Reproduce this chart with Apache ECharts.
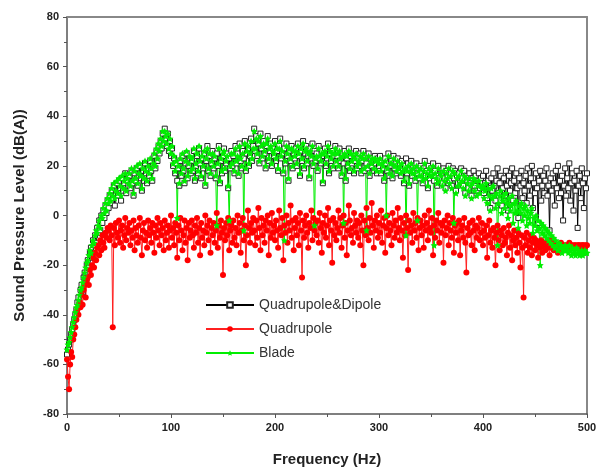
<!DOCTYPE html>
<html>
<head>
<meta charset="utf-8">
<script src="https://cdn.jsdelivr.net/npm/echarts@6/dist/echarts.min.js"></script>
<style>
  html, body { margin: 0; padding: 0; background: #fff; }
  #chart { width: 601px; height: 474px; }
</style>
</head>
<body>
<div id="chart"></div>
<script>
// spectrum sampled every 1 Hz, 0..500 Hz
const freqStep = 1
const xTicks = [0, 100, 200, 300, 400, 500]
const yTicks = [-80, -60, -40, -20, 0, 20, 40, 60, 80]

// Quadrupole&Dipole
const quadDipole = [
  -56,-54,-52,-50,-48,-46,-44,-42,-40,-38,-35,-33,-36,-30,-28,-31,-25,-23,-26,-20,
  -18,-21,-15,-13,-17,-10,-12,-8,-11,-5,-7,-2,-6,0,-3,2,-1,4,1,6,
  3,8,5,10,7,12,4,9,13,8,14,11,6,15,10,13,17,9,14,12,
  16,11,18,13,8,17,14,19,12,16,20,15,10,18,14,21,17,13,19,16,
  22,18,14,20,24,19,26,22,28,25,30,27,33,29,35,31,28,33,26,30,
  24,27,20,23,17,21,14,19,12,22,16,24,18,13,21,25,15,20,23,17,
  22,18,26,14,20,24,17,27,21,15,23,19,25,12,22,28,18,24,16,21,
  26,19,23,15,25,20,28,13,22,17,24,27,18,21,25,11,23,19,26,20,
  24,17,28,21,25,16,29,22,19,26,23,30,18,25,27,20,24,31,22,28,
  35,26,32,24,29,21,33,27,23,30,25,19,28,32,22,26,29,20,27,24,
  30,22,26,18,28,31,23,25,17,27,21,29,24,14,26,22,28,19,25,23,
  27,20,29,24,16,26,22,30,19,25,28,21,24,15,27,23,29,20,26,22,
  25,18,28,23,21,26,13,24,27,20,23,29,17,25,22,26,19,24,28,21,
  24,19,27,22,16,25,21,26,14,23,20,27,18,24,21,25,17,22,26,19,
  23,20,25,17,22,26,18,24,21,19,25,16,23,20,22,18,24,21,17,23,
  20,24,17,22,19,14,23,21,18,25,16,20,22,15,24,19,21,17,23,18,
  21,16,22,19,13,20,23,17,21,12,19,22,16,20,18,14,21,17,19,15,
  20,17,13,19,22,16,18,11,20,15,19,17,21,14,18,16,12,20,15,18,
  17,13,19,15,11,18,16,20,14,17,12,19,15,18,10,16,13,17,14,19,
  15,12,18,9,16,14,11,17,13,8,15,18,12,16,10,14,17,11,15,13,
  16,9,13,18,7,14,11,3,15,10,17,12,6,14,19,9,13,16,4,11,
  15,8,18,12,2,16,10,13,19,6,14,9,17,11,-1,15,12,18,7,13,
  10,16,5,19,12,8,15,20,3,13,9,17,11,-3,14,18,6,12,16,9,
  14,19,8,12,-6,15,10,17,13,4,18,11,20,7,14,9,16,-2,12,19,
  8,15,11,21,6,13,17,2,14,10,18,-5,12,16,7,19,13,3,15,11,
  17
]

// Quadrupole
const quadrupole = [
  -58,-65,-70,-60,-55,-57,-50,-48,-45,-42,-38,-40,-35,-37,-32,-36,-30,-28,-33,-26,
  -25,-28,-22,-24,-20,-17,-21,-15,-18,-13,-12,-16,-10,-14,-8,-11,-13,-7,-9,-5,
  -6,-10,-4,-8,-45,-5,-12,-3,-7,-9,-2,-11,-6,-4,-13,-8,-1,-10,-5,-7,
  -3,-12,-6,-9,-2,-14,-5,-8,-11,-4,-1,-9,-16,-6,-3,-10,-7,-13,-2,-8,
  -5,-11,-3,-7,-15,-4,-9,-1,-6,-12,-3,-8,-5,-14,-2,-10,-7,-4,-13,-6,
  0,-9,-5,-12,-3,-7,-17,-4,-10,-1,-6,-14,-8,-2,-11,-5,-18,-3,-9,-6,
  -2,-8,-13,-4,-7,-1,-11,-5,-16,-3,-9,-6,-12,0,-7,-4,-10,-2,-15,-5,
  -8,-3,-11,-6,1,-13,-4,-9,-2,-7,-24,-5,-10,-3,-8,-1,-14,-6,-4,-11,
  -2,-9,-5,-12,0,-7,-3,-15,-6,-1,-10,-4,-20,-8,2,-5,-11,-3,-7,-1,
  -6,-12,-2,-9,3,-5,-14,-1,-8,-4,-11,-2,-6,0,-16,-3,-9,1,-7,-4,
  -10,-2,-6,-13,2,-5,-8,-1,-18,-4,-7,0,-11,-3,-6,4,-9,-2,-14,-5,
  -1,-8,-3,-12,1,-6,-25,-2,-9,-4,0,-7,-13,-3,-5,2,-10,-1,-6,-3,
  -8,-2,-11,1,-5,-15,-3,-7,0,-9,-4,3,-12,-2,-6,-19,-1,-8,-3,-10,
  -5,2,-7,-1,-13,-4,0,-9,-3,-16,-6,4,-2,-8,-5,-11,1,-4,-7,-2,
  -9,-3,-12,0,-6,-20,-2,-8,3,-5,-10,-1,-7,5,-4,-13,-2,-6,0,-9,
  -3,-7,2,-11,-4,-1,-15,-5,0,-8,-3,-6,-12,1,-4,-9,-2,-7,3,-5,
  -10,-1,-6,-17,-3,-8,0,-5,-22,-2,-7,-4,-11,1,-6,-3,-9,-1,-14,-5,
  -2,-8,-4,-13,0,-6,-3,-10,2,-5,-7,-1,-16,-4,-9,-2,-6,1,-11,-3,
  -7,-4,-19,-2,-8,-5,0,-12,-3,-6,-9,-1,-15,-4,-7,-3,-10,-2,-16,-6,
  -4,-9,-1,-11,-23,-5,-8,-3,-7,-12,-2,-6,-14,-4,-9,-5,-1,-10,-7,-3,
  -12,-6,-9,-4,-17,-8,-2,-11,-6,-13,-5,-9,-20,-7,-4,-10,-14,-6,-8,-12,
  -5,-11,-9,-16,-7,-4,-13,-8,-18,-10,-6,-12,-9,-15,-7,-11,-21,-8,-13,-33,
  -9,-12,-7,-15,-10,-13,-8,-16,-11,-9,-14,-10,-12,-17,-11,-13,-10,-15,-12,-11,
  -14,-11,-13,-12,-16,-10,-13,-12,-14,-11,-13,-12,-15,-12,-13,-11,-12,-14,-12,-13,
  -12,-13,-12,-11,-13,-12,-12,-13,-12,-12,-13,-12,-12,-12,-13,-12,-12,-12,-13,-12,
  -12
]

// Blade
const blade = [
  -54,-52,-51,-49,-47,-45,-43,-41,-39,-37,-36,-34,-32,-30,-29,-27,-25,-23,-21,-19,
  -18,-16,-14,-15,-12,-10,-11,-8,-6,-7,-4,-2,-5,0,-1,3,1,5,2,7,
  5,9,6,11,8,13,7,10,14,9,15,12,8,16,11,14,17,10,15,13,
  17,12,19,14,9,18,15,20,13,17,21,16,11,19,15,22,18,14,20,17,
  23,19,15,21,25,20,27,23,29,26,31,28,34,30,34,32,29,33,27,31,
  25,28,21,24,18,22,-1,20,13,23,17,25,19,14,22,26,16,21,24,18,
  23,19,27,15,21,25,18,28,22,16,24,20,26,13,23,27,19,25,17,22,
  25,20,24,16,-4,21,27,14,23,18,25,26,19,22,24,12,-2,20,25,21,
  25,18,27,22,24,17,28,23,20,25,-6,29,19,26,28,21,25,30,23,27,
  34,27,31,25,30,22,32,28,24,29,26,20,29,31,23,27,28,21,26,25,
  29,23,27,19,27,30,24,26,18,-10,22,28,25,15,27,23,27,20,26,24,
  26,21,28,25,17,27,23,29,20,26,27,22,25,16,26,24,28,21,-4,23,
  24,19,27,24,22,25,14,25,26,21,24,28,18,26,23,25,20,25,27,22,
  25,20,26,23,17,24,-3,25,15,24,21,26,19,25,22,24,18,23,25,20,
  22,21,24,18,23,25,19,23,-6,20,24,17,22,21,23,19,23,22,18,22,
  21,23,18,21,20,15,22,0,19,24,17,21,21,16,23,20,20,18,22,19,
  20,17,21,18,14,19,-8,18,20,13,18,21,17,19,17,15,20,-2,18,16,
  19,16,14,18,21,15,17,12,19,16,18,16,20,-12,17,15,13,19,14,17,
  16,12,18,14,10,17,15,19,13,16,11,18,-3,17,9,15,12,16,13,18,
  14,11,16,8,15,13,10,15,12,7,13,15,10,14,8,12,14,9,12,11,
  12,7,10,13,5,11,8,2,11,7,12,8,3,9,-12,5,8,10,1,6,
  8,3,9,5,-1,7,2,4,8,-3,5,1,6,2,-5,4,1,5,-2,3,
  0,4,-4,2,-1,-3,1,3,-7,-1,-4,0,-6,-2,-5,-20,-3,-7,-4,-8,
  -5,-9,-6,-10,-7,-11,-8,-12,-9,-13,-10,-12,-14,-11,-13,-12,-15,-13,-14,-12,
  -14,-13,-15,-12,-14,-16,-13,-15,-14,-16,-13,-15,-14,-16,-15,-14,-16,-15,-14,-15,
  -15
]

const toPoints = arr => arr.map((v, i) => [i * freqStep, v])

const font = 'Arial, "Liberation Sans", Helvetica, sans-serif'
const axisLineStyle = { color: '#555', width: 1.5 }
const frameLine = { show: true, onZero: false, lineStyle: { color: '#888', width: 2 } }

const chart = echarts.init(document.getElementById('chart'))
chart.setOption({
  animation: false,
  backgroundColor: '#fff',
  grid: { left: 67, right: 14, top: 17, bottom: 60 },
  legend: {
    orient: 'vertical',
    left: 200,
    top: 293,
    itemWidth: 48,
    itemHeight: 7,
    itemGap: 10,
    textStyle: { fontFamily: font, fontSize: 14, color: '#333' },
    data: ['Quadrupole&Dipole', 'Quadrupole', 'Blade']
  },
  xAxis: [
    {
      type: 'value',
      min: xTicks[0],
      max: xTicks[xTicks.length - 1],
      interval: 100,
      name: 'Frequency (Hz)',
      nameLocation: 'middle',
      nameGap: 38,
      nameTextStyle: { fontFamily: font, fontSize: 15, fontWeight: 'bold', color: '#222' },
      axisLine: { onZero: false, lineStyle: axisLineStyle },
      axisTick: { length: 4, lineStyle: { color: '#555' } },
      minorTick: { show: true, splitNumber: 2, length: 3, lineStyle: { color: '#555' } },
      axisLabel: { fontFamily: font, fontSize: 11, fontWeight: 'bold', color: '#222', margin: 8 },
      splitLine: { show: false }
    },
    {
      type: 'value',
      position: 'top',
      min: 0,
      max: 500,
      axisLine: frameLine,
      axisTick: { show: false },
      axisLabel: { show: false },
      splitLine: { show: false }
    }
  ],
  yAxis: [
    {
      type: 'value',
      min: yTicks[0],
      max: yTicks[yTicks.length - 1],
      interval: 20,
      name: 'Sound Pressure Level (dB(A))',
      nameLocation: 'middle',
      nameGap: 40,
      nameTextStyle: { fontFamily: font, fontSize: 15, fontWeight: 'bold', color: '#222' },
      axisLine: { show: true, onZero: false, lineStyle: axisLineStyle },
      axisTick: { show: true, length: 4, lineStyle: { color: '#555' } },
      minorTick: { show: true, splitNumber: 2, length: 3, lineStyle: { color: '#555' } },
      axisLabel: { fontFamily: font, fontSize: 11, fontWeight: 'bold', color: '#222', margin: 8 },
      splitLine: { show: false }
    },
    {
      type: 'value',
      position: 'right',
      min: -80,
      max: 80,
      axisLine: frameLine,
      axisTick: { show: false },
      axisLabel: { show: false },
      splitLine: { show: false }
    }
  ],
  series: [
    {
      name: 'Quadrupole&Dipole',
      type: 'line',
      data: toPoints(quadDipole),
      symbol: 'rect',
      symbolSize: 5,
      showAllSymbol: true,
      lineStyle: { color: '#000', width: 1 },
      itemStyle: { color: '#fff', borderColor: '#222', borderWidth: 1 }
    },
    {
      name: 'Quadrupole',
      type: 'line',
      data: toPoints(quadrupole),
      symbol: 'circle',
      symbolSize: 6,
      showAllSymbol: true,
      lineStyle: { color: '#ff2020', width: 1 },
      itemStyle: { color: '#ff0000' }
    },
    {
      name: 'Blade',
      type: 'line',
      data: toPoints(blade),
      symbol: 'path://M0,-10L2.9,-4L9.5,-3.1L4.8,1.5L5.9,8.1L0,5L-5.9,8.1L-4.8,1.5L-9.5,-3.1L-2.9,-4Z',
      symbolSize: 7,
      showAllSymbol: true,
      lineStyle: { color: '#00ee00', width: 1 },
      itemStyle: { color: '#00ee00' }
    }
  ]
})
</script>
</body>
</html>
